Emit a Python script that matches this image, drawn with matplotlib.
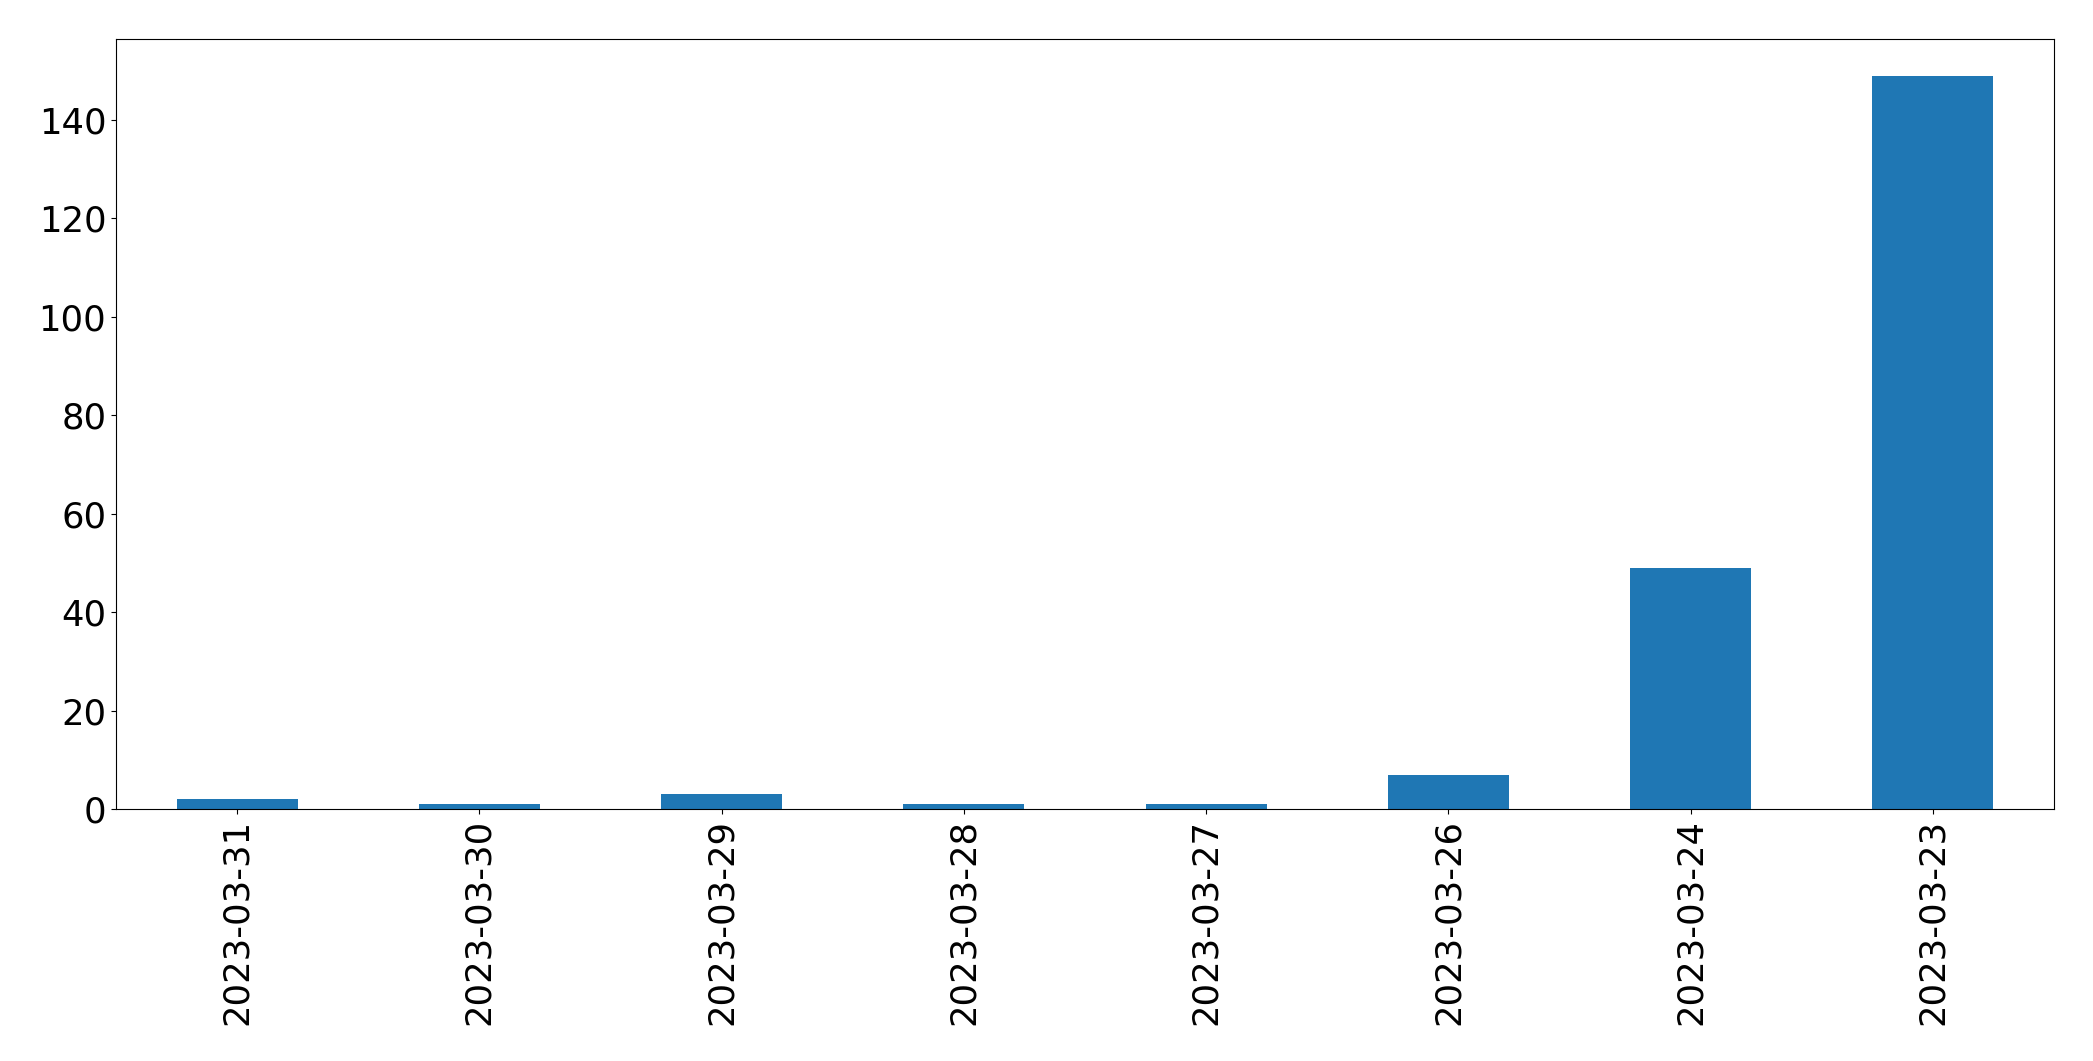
import matplotlib
matplotlib.use('Agg')
import matplotlib.pyplot as plt
import numpy as np

dates = ['2023-03-31', '2023-03-30', '2023-03-29', '2023-03-28',
         '2023-03-27', '2023-03-26', '2023-03-24', '2023-03-23']
counts = [2, 1, 3, 1, 1, 7, 49, 149]

fig = plt.figure(figsize=(20.93, 10.61), dpi=100)
ax = fig.add_axes([116 / 2093, 1 - 809 / 1061, (2054 - 116) / 2093, (809 - 39) / 1061])

x = np.arange(len(dates))
ax.bar(x, counts, width=0.5, color='#1f77b4')
ax.set_xlim(-0.5, len(dates) - 0.5)
ax.set_ylim(0, max(counts) * 1.05)
ax.set_xticks(x)
ax.set_xticklabels(dates, rotation=90)
ax.tick_params(labelsize=25.5)

fig.savefig('out.png', dpi=100)
